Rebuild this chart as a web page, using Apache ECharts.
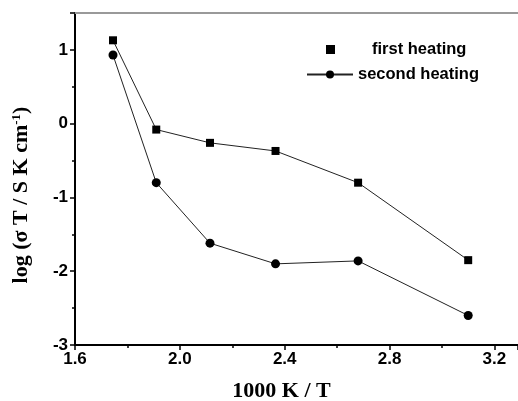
<!DOCTYPE html>
<html>
<head>
<meta charset="utf-8">
<script src="https://cdn.jsdelivr.net/npm/echarts@6/dist/echarts.min.js"></script>
<style>html,body{margin:0;padding:0;background:#fff}#c{width:518px;height:401px}</style>
</head>
<body>
<div id="c"></div>
<script>
const xValues = [1.745, 1.91, 2.115, 2.365, 2.68, 3.1];
const firstHeating = [1.13, -0.08, -0.26, -0.37, -0.80, -1.85];
const secondHeating = [0.93, -0.80, -1.62, -1.90, -1.86, -2.60];
const seriesNames = ['first heating', 'second heating'];

const chart = echarts.init(document.getElementById('c'));
const tickFont = {color: '#000', fontFamily: 'Liberation Sans, Arial, sans-serif', fontWeight: 'bold', fontSize: 17};
chart.setOption({
  animation: false,
  backgroundColor: '#fff',
  grid: {left: 75, top: 13, right: 0, bottom: 56, outerBoundsMode: 'none', containLabel: false},
  legend: [
    {data: [{name: seriesNames[0], icon: 'rect'}], left: 321, top: 36, itemWidth: 9, itemHeight: 9,
     textStyle: {color: '#000', fontFamily: 'Liberation Sans, Arial, sans-serif', fontWeight: 'bold', fontSize: 16.5, padding: [0,0,0,32]}},
    {data: [seriesNames[1]], left: 301, top: 61, itemWidth: 46, itemHeight: 10,
     textStyle: {color: '#000', fontFamily: 'Liberation Sans, Arial, sans-serif', fontWeight: 'bold', fontSize: 16.5}}
  ],
  xAxis: [{
    type: 'value', min: 1.6, max: 3.29, interval: 0.4,
    name: '1000 K / T', nameLocation: 'middle', nameGap: 35,
    nameTextStyle: {color: '#000', fontFamily: 'Liberation Serif, Times New Roman, serif', fontWeight: 'bold', fontSize: 22, padding: [0, 30, 0, 0]},
    axisLine: {onZero: false, lineStyle: {color: '#000', width: 2}},
    axisTick: {inside: false, length: 5, lineStyle: {color: '#000', width: 1.5}},
    minorTick: {show: true, splitNumber: 2, length: 3, lineStyle: {color: '#000', width: 1.5}},
    axisLabel: Object.assign({margin: 6, showMaxLabel: false, formatter: v => v.toFixed(1)}, tickFont),
    splitLine: {show: false}
  }, {
    type: 'value', position: 'top', min: 1.6, max: 3.29,
    axisLine: {show: true, onZero: false, lineStyle: {color: '#999', width: 2}},
    axisTick: {show: false}, axisLabel: {show: false}, splitLine: {show: false}
  }],
  yAxis: {
    type: 'value', min: -3, max: 1.5, interval: 1,
    name: '{a|log (σ T / S K cm}{s|-1}{a|)}', nameLocation: 'middle', nameGap: 43,
    nameTextStyle: {padding: [0, 32, 0, 0],
      rich: {
        a: {color: '#000', fontFamily: 'Liberation Serif, Times New Roman, serif', fontWeight: 'bold', fontSize: 22},
        s: {color: '#000', fontFamily: 'Liberation Serif, Times New Roman, serif', fontWeight: 'bold', fontSize: 13, verticalAlign: 'top', padding: [0,0,9,0]}
      }},
    axisLine: {show: true, onZero: false, lineStyle: {color: '#000', width: 2}},
    axisTick: {inside: false, length: 5, lineStyle: {color: '#000', width: 1.5}},
    minorTick: {show: true, splitNumber: 2, length: 3, lineStyle: {color: '#000', width: 1.5}},
    axisLabel: Object.assign({margin: 7, showMaxLabel: false, formatter: v => String(v)}, tickFont),
    splitLine: {show: false}
  },
  series: [
    {name: seriesNames[0], type: 'line', data: xValues.map((x, i) => [x, firstHeating[i]]),
     symbol: 'rect', symbolSize: 8, lineStyle: {color: '#222', width: 1}, itemStyle: {color: '#000'}},
    {name: seriesNames[1], type: 'line', data: xValues.map((x, i) => [x, secondHeating[i]]),
     symbol: 'circle', symbolSize: 9, lineStyle: {color: '#222', width: 1}, itemStyle: {color: '#000'}}
  ]
});
</script>
</body>
</html>
